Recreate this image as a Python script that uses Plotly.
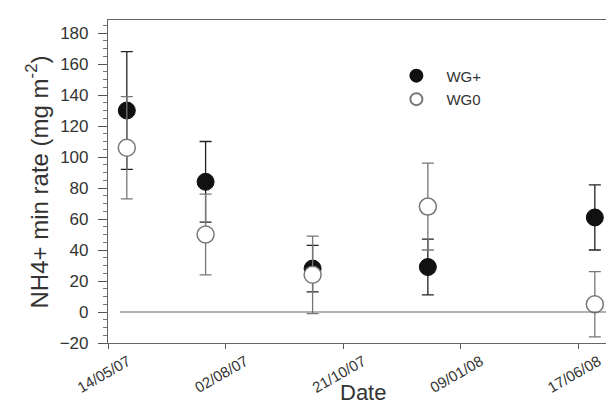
import plotly.graph_objects as go

tick_labels = ["14/05/07", "02/08/07", "21/10/07", "09/01/08", "17/06/08"]
tick_pos = [0, 1, 2, 3, 4]
x_pos = [0.16, 0.83, 1.74, 2.72, 4.14]

wg_plus = [130, 84, 28, 29, 61]
wg_plus_err = [38, 26, 15, 18, 21]
wg_zero = [106, 50, 24, 68, 5]
wg_zero_err = [33, 26, 25, 28, 21]

font_family = "Liberation Sans, Arial, sans-serif"

fig = go.Figure()
fig.add_trace(go.Scatter(
    x=x_pos, y=wg_plus, mode="markers", name="WG+",
    legendgroup="a",
    marker=dict(size=17, color="#111111", line=dict(color="#111111", width=1)),
    error_y=dict(type="data", array=wg_plus_err, color="#222222", thickness=1.3, width=6),
))
fig.add_trace(go.Scatter(
    x=x_pos, y=wg_zero, mode="markers", name="WG0",
    legendgroup="b",
    marker=dict(size=17, color="white", line=dict(color="#777777", width=1.5)),
    error_y=dict(type="data", array=wg_zero_err, color="#777777", thickness=1.3, width=6),
))

fig.add_shape(type="line", xref="x", yref="y", x0=0.1, x1=4.235, y0=0, y1=0,
              line=dict(color="#666666", width=1.2))

fig.add_annotation(text="Date", xref="paper", yref="paper", x=0.512, y=-0.108,
                   xanchor="center", yanchor="top", showarrow=False,
                   font=dict(size=22, color="#333333"))
fig.add_annotation(text="NH4+ min rate (mg m<sup>-2</sup>)", xref="paper", yref="paper",
                   x=-0.1426, y=0.5, xanchor="center", yanchor="middle", textangle=-90,
                   showarrow=False, font=dict(size=24, color="#333333"))

fig.update_layout(
    width=606, height=404,
    margin=dict(l=108, r=0, t=20, b=61),
    paper_bgcolor="white", plot_bgcolor="white",
    font=dict(family=font_family, color="#333333", size=15),
    showlegend=True,
    legend=dict(x=0.559, y=0.878, xanchor="left", yanchor="top",
                bgcolor="rgba(0,0,0,0)", tracegroupgap=1, itemwidth=50,
                font=dict(size=15, color="#333333"), itemsizing="constant"),
    xaxis=dict(
        range=[0, 4.235], tickmode="array", tickvals=tick_pos, ticktext=tick_labels,
        tickangle=-30, ticks="outside", ticklen=5, tickcolor="#555555",
        ticklabelshift=20, ticklabelstandoff=-2, ticklabeloverflow="allow", automargin=False,
        showline=True, linecolor="#666666", linewidth=1.2, mirror=True,
        showgrid=False, zeroline=False,
        tickfont=dict(size=15, color="#333333"),
    ),
    yaxis=dict(
        range=[-20, 188.4], tickmode="linear", tick0=0, dtick=20,
        ticks="outside", ticklen=9, tickcolor="#555555",
        ticklabelstandoff=6, automargin=False,
        minor=dict(dtick=5, ticks="outside", ticklen=4, tickcolor="#777777"),
        showline=True, linecolor="#666666", linewidth=1.2,
        showgrid=False, zeroline=False,
        tickfont=dict(size=17, color="#333333"),
    ),
)

fig.write_html("out.html")
